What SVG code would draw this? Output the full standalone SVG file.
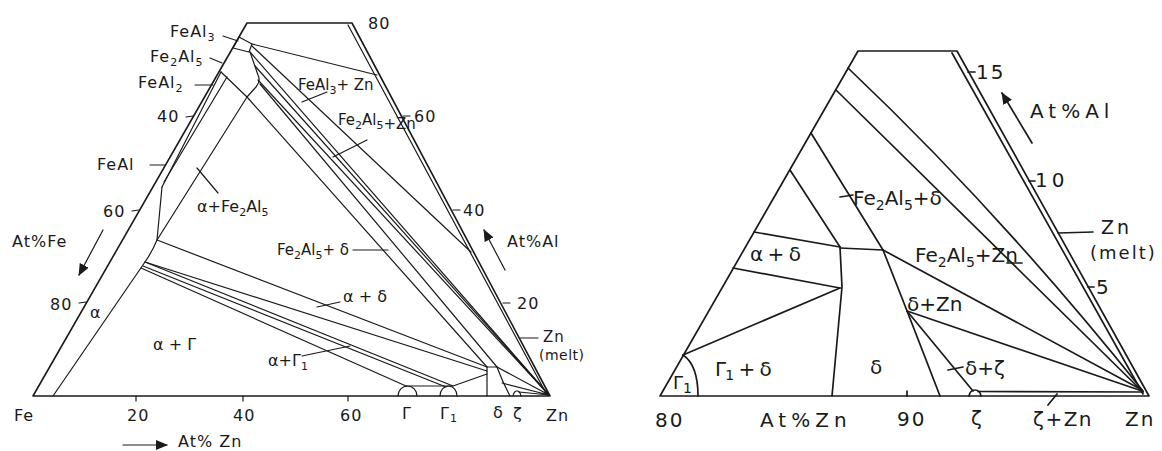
<svg xmlns="http://www.w3.org/2000/svg" width="1162" height="451" viewBox="0 0 1162 451">
<defs>
<style>
.ln{fill:none;stroke:#1a1a1a;stroke-width:1.2;stroke-linejoin:round;stroke-linecap:round}
.fr{fill:none;stroke:#1a1a1a;stroke-width:1.6;stroke-linejoin:round;stroke-linecap:round}
.lr{fill:none;stroke:#1a1a1a;stroke-width:1.7;stroke-linejoin:round;stroke-linecap:round}
.tl{font-family:"DejaVu Sans","Liberation Sans",sans-serif;font-size:16px;fill:#1a1a1a;letter-spacing:1px}
.tr{font-family:"DejaVu Sans","Liberation Sans",sans-serif;font-size:20px;fill:#1a1a1a}
.sb{font-size:11px}
.sr{font-size:14px}
</style>
<marker id="ah" viewBox="0 0 12 10" refX="11" refY="5" markerWidth="12" markerHeight="10" markerUnits="userSpaceOnUse" orient="auto"><path d="M0,0 L12,5 L0,10 Z" fill="#1a1a1a"/></marker>
</defs>
<rect width="1162" height="451" fill="#ffffff"/>

<!-- LEFT DIAGRAM -->
<g id="left-frame">
<path class="fr" d="M33,396 L247,23 L352,23 L550,396 Z"/>
<line class="ln" x1="348" y1="25" x2="547" y2="395"/>
<path class="ln" d="M186,117 L193,116 M132,211 L139,210 M79,303 L86,302 M136,396 L136,401 M243,396 L243,401 M348,396 L348,401 M403,116 L410,116 M453,210 L460,210 M503,303 L510,303"/>
</g>
<g id="left-phase-lines">
<path class="ln" d="M53,396 L145,262 Q152,252 157,240 L162,187"/>
<path class="ln" d="M157,240 L247,97"/>
<path class="ln" d="M162,187 L221,72"/>
<path class="ln" d="M164,182 L227,77"/>
<path class="ln" d="M221,72 L247,97 L256,87 Q261,81 258,75 L250,52"/>
<path class="ln" d="M233,48 L239,37 L252,44 L249,52 Z"/>
<path class="ln" d="M252,44 L377,75"/>
<path class="ln" d="M252,46 L471,252"/>
<path class="ln" d="M250,52 L549,395"/>
<path class="ln" d="M255,66 L549,395"/>
<path class="ln" d="M258,80 L549,395"/>
<path class="ln" d="M260,84 L497,367"/>
<path class="ln" d="M247,97 L487,367"/>
<path class="ln" d="M157,240 L487,367"/>
<path class="ln" d="M145,262 L487,371"/>
<path class="ln" d="M145,262 L453,386"/>
<path class="ln" d="M143,266 L446,387"/>
<path class="ln" d="M141,268 L406,386"/>
<path class="ln" d="M406,386 L453,386 L487,374"/>
<path class="ln" d="M487,396 L487,367 L497,367 Q502,381 510,396"/>
<path class="ln" d="M497,367 L549,395 M502,383 L549,395 M519,392 L549,395"/>
<path class="ln" d="M513,396 Q514,391 517,391 Q520,391 521,396"/>
<path class="ln" d="M398,396 A9.5,10 0 0 1 417,396"/>
<path class="ln" d="M440,396 A8.5,10 0 0 1 457,396"/>
</g>
<g id="left-leaders">
<path class="ln" d="M223,36 L238,41 M210,58 L222,63 M195,85 L213,85 M150,165 L165,165 M197,168 L218,193 M302,102 L327,92 M333,157 L367,140 M353,250 L388,250 M317,307 L340,302 M302,356 L350,346 M520,338 L538,338"/>
<line class="ln" x1="103" y1="230" x2="79" y2="275" marker-end="url(#ah)"/>
<line class="ln" x1="505" y1="270" x2="484" y2="230" marker-end="url(#ah)"/>
<line class="ln" x1="123" y1="445" x2="167" y2="445" marker-end="url(#ah)"/>
</g>
<g id="left-labels" class="tl">
<text x="170" y="37">FeAl<tspan class="sb" dy="4">3</tspan></text>
<text x="150" y="62">Fe<tspan class="sb" dy="4">2</tspan><tspan dy="-4">Al</tspan><tspan class="sb" dy="4">5</tspan></text>
<text x="138" y="88">FeAl<tspan class="sb" dy="4">2</tspan></text>
<text x="157" y="122">40</text>
<text x="97" y="170">FeAl</text>
<text x="103" y="217">60</text>
<text x="197" y="212" letter-spacing="0">α+Fe<tspan class="sb" dy="4">2</tspan><tspan dy="-4">Al</tspan><tspan class="sb" dy="4">5</tspan></text>
<text x="12" y="247">At%Fe</text>
<text x="50" y="310">80</text>
<text x="90" y="318">α</text>
<text x="153" y="350" letter-spacing="0">α + Γ</text>
<text x="268" y="366" letter-spacing="0">α+Γ<tspan class="sb" dy="4">1</tspan></text>
<text x="343" y="302" letter-spacing="0">α + δ</text>
<text x="277" y="255" letter-spacing="0" font-size="15">Fe<tspan class="sb" dy="4">2</tspan><tspan dy="-4">Al</tspan><tspan class="sb" dy="4">5</tspan><tspan dy="-4">+ δ</tspan></text>
<text x="298" y="90" letter-spacing="0" font-size="15">FeAl<tspan class="sb" dy="4">3</tspan><tspan dy="-4">+ Zn</tspan></text>
<text x="338" y="125" letter-spacing="0" font-size="15">Fe<tspan class="sb" dy="4">2</tspan><tspan dy="-4">Al</tspan><tspan class="sb" dy="4">5</tspan><tspan dy="0">+Zn</tspan></text>
<text x="368" y="29">80</text>
<text x="414" y="122">60</text>
<text x="463" y="216">40</text>
<text x="517" y="309">20</text>
<text x="507" y="247">At%Al</text>
<text x="543" y="342" font-size="15">Zn</text>
<text x="539" y="360" font-size="14" letter-spacing="0.5">(melt)</text>
<text x="14" y="421">Fe</text>
<text x="127" y="421">20</text>
<text x="233" y="421">40</text>
<text x="340" y="421">60</text>
<text x="402" y="419">Γ</text>
<text x="440" y="419">Γ<tspan class="sb" dy="3">1</tspan></text>
<text x="493" y="418">δ</text>
<text x="513" y="419">ζ</text>
<text x="546" y="421">Zn</text>
<text x="178" y="447">At% Zn</text>
</g>

<!-- RIGHT DIAGRAM -->
<g id="right-frame">
<path class="lr" d="M660,396 L858,51 L957,51 L1149,396 Z"/>
<line class="lr" x1="952" y1="53" x2="1143" y2="394"/>
<path class="lr" d="M968,72 L975,72 M1029,181 L1035,181 M1088,287 L1094,287 M907,391 L907,396"/>
</g>
<g id="right-phase-lines">
<path class="lr" d="M848,68 Q1000,212 1143,391"/>
<path class="lr" d="M836,90 L1143,392"/>
<path class="lr" d="M811,133 L883,250"/>
<path class="lr" d="M790,170 L840,247"/>
<path class="lr" d="M754,232 L840,247"/>
<path class="lr" d="M733,268 L840,288"/>
<path class="lr" d="M683,355 L840,288"/>
<path class="lr" d="M840,247 L842,287 L832,396"/>
<path class="lr" d="M840,248 L883,250"/>
<path class="lr" d="M883,250 Q903,300 940,396"/>
<path class="lr" d="M883,250 L1142,390"/>
<path class="lr" d="M907,311 L1142,391"/>
<path class="lr" d="M907,311 L973,391"/>
<path class="lr" d="M969,396 Q970,390 975,390 Q980,390 981,396"/>
<path class="lr" d="M978,391.5 L1143,392"/>
<path class="lr" d="M683,355 C692,361 698,375 698,396"/>
</g>
<g id="right-leaders">
<path class="lr" d="M840,197 L853,195 M1007,263 L1022,263 M948,370 L963,367 M1048,405 L1057,394 M1058,233 L1093,232"/>
<line class="lr" x1="1032" y1="143" x2="1002" y2="93" marker-end="url(#ah)"/>
</g>
<g id="right-labels" class="tr">
<text x="853" y="205">Fe<tspan class="sr" dy="5">2</tspan><tspan dy="-5">Al</tspan><tspan class="sr" dy="5">5</tspan><tspan dy="-5">+δ</tspan></text>
<text x="750" y="261" letter-spacing="-1">α + δ</text>
<text x="915" y="262">Fe<tspan class="sr" dy="5">2</tspan><tspan dy="-5">Al</tspan><tspan class="sr" dy="5">5</tspan><tspan dy="-5">+Zn</tspan></text>
<text x="907" y="311">δ+Zn</text>
<text x="870" y="374">δ</text>
<text x="715" y="376" letter-spacing="-1">Γ<tspan class="sr" dy="4">1</tspan><tspan dy="-4"> + δ</tspan></text>
<text x="965" y="375">δ+ζ</text>
<text x="673" y="389" font-size="18">Γ<tspan class="sr" dy="4">1</tspan></text>
<text x="976" y="79" letter-spacing="2">15</text>
<text x="1030" y="118" letter-spacing="5">At%Al</text>
<text x="1035" y="187" letter-spacing="4">10</text>
<text x="1101" y="234" font-size="19" letter-spacing="3">Zn</text>
<text x="1090" y="259" font-size="18" letter-spacing="2">(melt)</text>
<text x="1096" y="294">5</text>
<text x="655" y="427" letter-spacing="2">80</text>
<text x="760" y="427" letter-spacing="5">At%Zn</text>
<text x="897" y="426" letter-spacing="2">90</text>
<text x="971" y="425">ζ</text>
<text x="1033" y="426" letter-spacing="1.5">ζ+Zn</text>
<text x="1125" y="426" letter-spacing="2">Zn</text>
</g>
</svg>
